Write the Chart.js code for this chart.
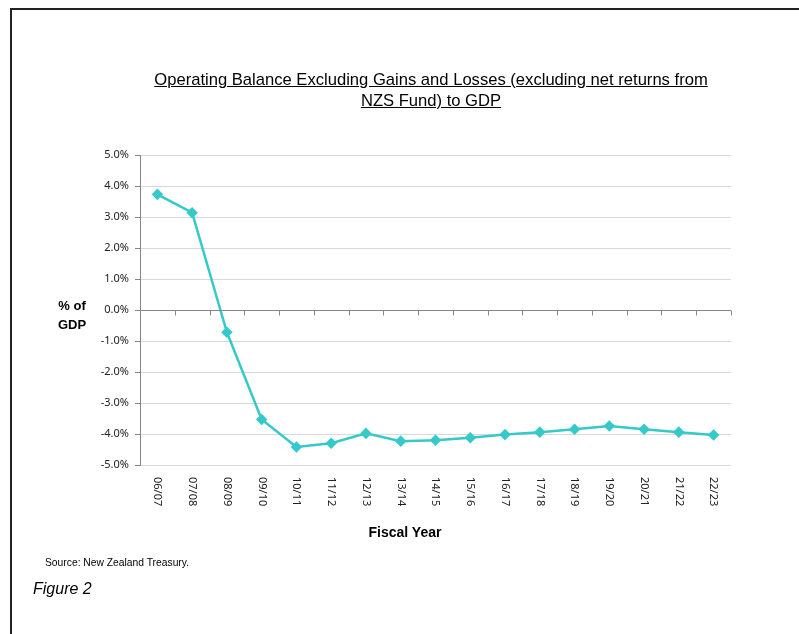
<!DOCTYPE html>
<html>
<head>
<meta charset="utf-8">
<script src="https://cdn.jsdelivr.net/npm/chart.js@4.4.0/dist/chart.umd.min.js"></script>
<style>
  body { margin: 0; background: #fff; }
  #wrap { position: relative; width: 799px; height: 634px; overflow: hidden; font-family: "Liberation Sans", Arial, sans-serif; }
  #frame { position: absolute; left: 10px; top: 8px; width: 800px; height: 640px; border-left: 2px solid #222; border-top: 2px solid #222; }
  canvas { position: absolute; left: 0; top: 0; }
  .txt { position: absolute; color: #000; }
  #title { left: 81px; width: 700px; top: 69px; text-align: center; font-size: 16.6px; line-height: 21px; text-decoration: underline; }
  #ytitle { left: 50px; width: 44px; top: 296px; text-align: center; font-size: 13px; font-weight: bold; line-height: 19px; }
  #xtitle { left: 335px; width: 140px; top: 524px; text-align: center; font-size: 14px; font-weight: bold; }
  #source { left: 45px; top: 557px; font-size: 10.3px; }
  #fig { left: 33px; top: 580px; font-size: 16px; font-style: italic; }
</style>
</head>
<body>
<div id="wrap">
  <canvas id="myChart" width="799" height="634"></canvas>
  <div id="frame"></div>
  <div class="txt" id="title">Operating Balance Excluding Gains and Losses (excluding net returns from<br>NZS Fund) to GDP</div>
  <div class="txt" id="ytitle">% of<br>GDP</div>
  <div class="txt" id="xtitle">Fiscal Year</div>
  <div class="txt" id="source">Source: New Zealand Treasury.</div>
  <div class="txt" id="fig">Figure 2</div>
</div>
<script>
var years = ['06/07','07/08','08/09','09/10','10/11','11/12','12/13','13/14','14/15','15/16','16/17','17/18','18/19','19/20','20/21','21/22','22/23'];
var balance = [3.73, 3.14, -0.72, -3.53, -4.42, -4.30, -3.98, -4.23, -4.20, -4.12, -4.02, -3.94, -3.85, -3.74, -3.85, -3.94, -4.03];
var yMin = -5;
var yMax = 5;

// zero axis with tick marks between categories, and x labels rotated clockwise
var axisPlugin = {
    id: 'zeroAxis',
    afterDraw: function(chart) {
        var c = chart.ctx;
        var x = chart.scales.x;
        var y = chart.scales.y;
        var area = chart.chartArea;
        var y0 = Math.round(y.getPixelForValue(0)) + 0.5;
        c.save();
        c.strokeStyle = '#868686';
        c.lineWidth = 1;
        c.beginPath();
        c.moveTo(area.left - 5, y0);
        c.lineTo(area.right, y0);
        var step = (area.right - area.left) / years.length;
        for (var i = 1; i <= years.length; i++) {
            var tx = Math.round(area.left + step * i) + 0.5;
            c.moveTo(tx, y0);
            c.lineTo(tx, y0 + 5);
        }
        c.stroke();
        c.fillStyle = '#222';
        c.font = '11px "Noto Sans", sans-serif';
        c.textAlign = 'left';
        c.textBaseline = 'middle';
        var top = y.getPixelForValue(yMin) + 12;
        for (var j = 0; j < years.length; j++) {
            c.save();
            c.translate(x.getPixelForValue(j), top);
            c.rotate(Math.PI / 2);
            c.fillText(years[j], 0, 0);
            c.restore();
        }
        c.restore();
    }
};

var myChart = new Chart(document.getElementById('myChart').getContext('2d'), {
    type: 'line',
    data: {
        labels: years,
        datasets: [{
            label: 'Operating balance % of GDP',
            data: balance,
            borderColor: '#36c9c9',
            backgroundColor: '#36c9c9',
            borderWidth: 2.5,
            pointStyle: 'rectRot',
            pointRadius: 4,
            pointHoverRadius: 4,
            tension: 0
        }]
    },
    options: {
        responsive: false,
        animation: false,
        layout: { padding: { top: 155, right: 68, bottom: 169, left: 0 } },
        plugins: { legend: { display: false }, tooltip: { enabled: false } },
        scales: {
            x: {
                display: false,
                offset: true
            },
            y: {
                min: yMin,
                max: yMax,
                afterFit: function(scale) { scale.width = 140; },
                ticks: {
                    stepSize: 1,
                    padding: 6,
                    color: '#222',
                    font: { family: '"Noto Sans", sans-serif', size: 11 },
                    callback: function(v) { return v.toFixed(1) + '%'; }
                },
                grid: { color: '#d9d9d9', tickColor: '#868686', tickLength: 5 },
                border: { color: '#868686' }
            }
        }
    },
    plugins: [axisPlugin]
});
</script>
</body>
</html>
